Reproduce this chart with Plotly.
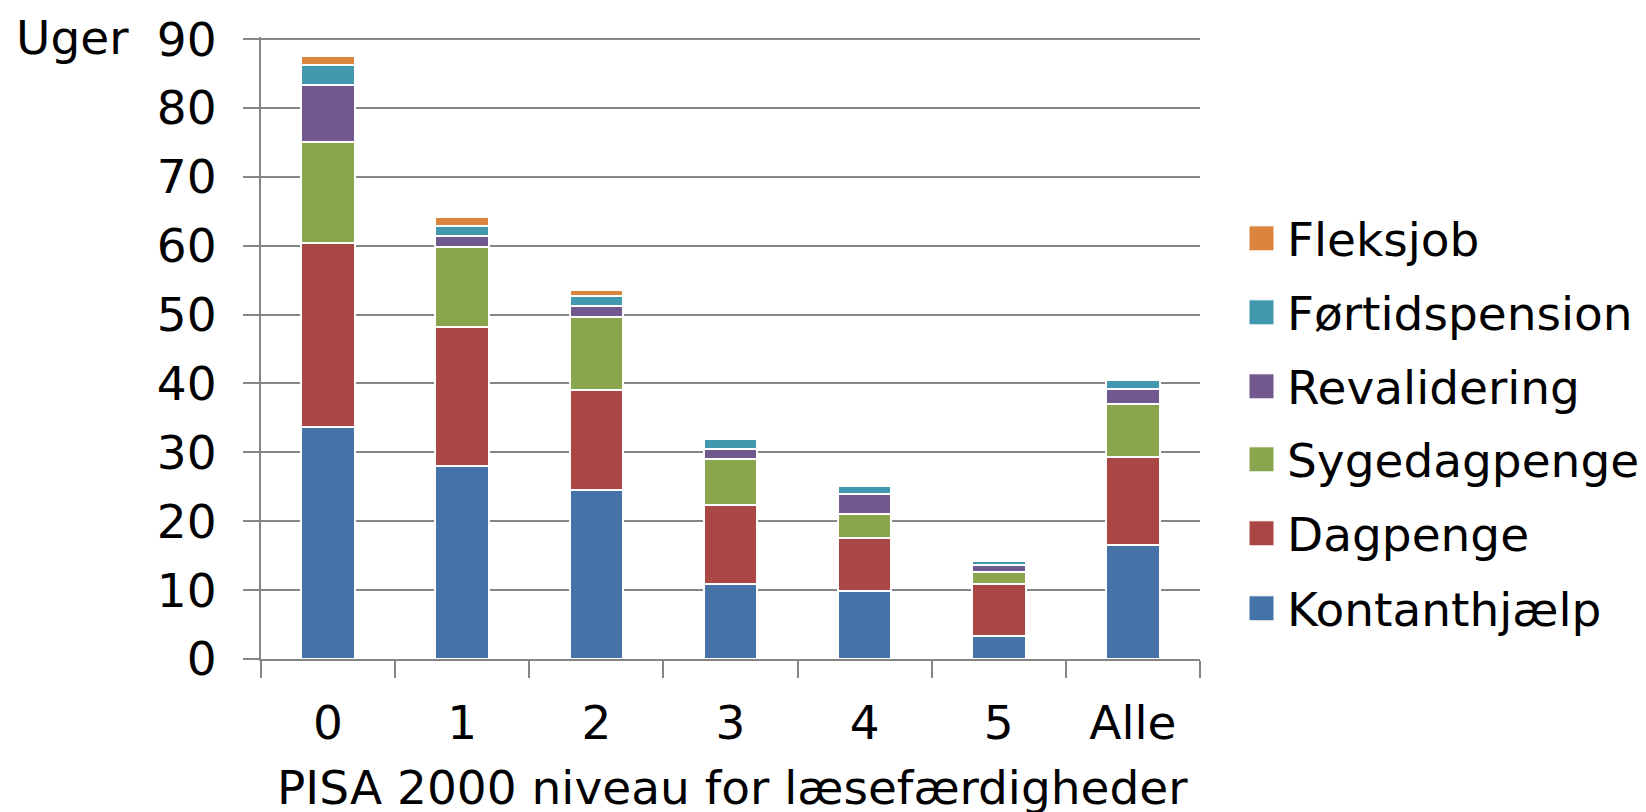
import plotly.graph_objects as go

categories = ["0", "1", "2", "3", "4", "5", "Alle"]
series_names = ["Kontanthjælp", "Dagpenge", "Sygedagpenge", "Revalidering", "Førtidspension", "Fleksjob"]
kontanthjaelp = [33.7, 28.0, 24.6, 10.9, 9.9, 3.3, 16.5]
dagpenge = [26.7, 20.2, 14.5, 11.5, 7.7, 7.6, 12.8]
sygedagpenge = [14.6, 11.6, 10.6, 6.6, 3.4, 1.8, 7.7]
revalidering = [8.4, 1.6, 1.6, 1.5, 3.0, 0.9, 2.2]
foertidspension = [2.8, 1.4, 1.4, 1.4, 1.1, 0.6, 1.3]
fleksjob = [1.4, 1.4, 0.8, 0.0, 0.0, 0.0, 0.3]
colors = ["#4572A7", "#AA4643", "#89A54E", "#71588F", "#4198AF", "#DB843D"]
y_ticks = [0, 10, 20, 30, 40, 50, 60, 70, 80, 90]
x_title = "PISA 2000 niveau for læsefærdigheder"
y_title = "Uger"

values = [kontanthjaelp, dagpenge, sygedagpenge, revalidering, foertidspension, fleksjob]

OFF = 8  # default page body margin
W, H = 1646 - OFF, 812 - OFF
# plot area in page pixels
Lp, Rp, Tp, Bp = 261, 1200, 38.7, 658.7
YMAX = 90.3
Tp_ext = Bp - (Bp - Tp) / 90 * YMAX
L, R, T, B = Lp - OFF, Rp - OFF, Tp_ext - OFF, Bp - OFF
FONT = "DejaVu Sans"
FS = 47
GRAY = "#868686"

def px(x):  # page px -> paper
    return (x - OFF - L) / (R - L)

def py(y):
    return (B - (y - OFF)) / (B - T)

fig = go.Figure()
for name, vals, col in zip(series_names, values, colors):
    fig.add_trace(go.Bar(
        x=categories, y=vals, name=name,
        marker=dict(color=col, line=dict(color="white", width=2)),
        showlegend=False,
    ))

# manual legend (page coordinates of item centres)
legend_y = [608, 533, 459, 386, 312, 238]
for name, col, ly in zip(series_names, colors, legend_y):
    fig.add_shape(type="rect", xref="paper", yref="paper",
                  x0=px(1249), x1=px(1274), y0=py(ly + 12.5), y1=py(ly - 12.5),
                  fillcolor=col, line=dict(color="white", width=1))
    fig.add_annotation(xref="paper", yref="paper", x=px(1285), y=py(ly + 1),
                       text=name, showarrow=False, xanchor="left", yanchor="middle",
                       font=dict(family=FONT, size=FS, color="black"))

fig.add_annotation(xref="paper", yref="paper", x=px(14), y=py(37),
                   text=y_title, showarrow=False, xanchor="left", yanchor="middle",
                   font=dict(family=FONT, size=FS, color="black"))
fig.add_annotation(xref="paper", yref="paper", x=px(732), y=py(787),
                   text=x_title, showarrow=False, xanchor="center", yanchor="middle",
                   font=dict(family=FONT, size=FS, color="black"))

fig.update_layout(
    width=W, height=H,
    barmode="stack", bargap=0.6,
    paper_bgcolor="white", plot_bgcolor="white",
    margin=dict(l=L, r=W - R, t=T, b=H - B, autoexpand=False),
    font=dict(family=FONT, size=FS, color="black"),
    showlegend=False,
)
fig.update_yaxes(
    range=[0, YMAX], tickvals=y_ticks, showgrid=True, gridcolor=GRAY, gridwidth=2,
    showline=True, linecolor=GRAY, linewidth=2, ticks="outside", ticklen=16,
    tickwidth=2, tickcolor=GRAY, zeroline=False, ticklabelstandoff=17,
    tickfont=dict(family=FONT, size=FS, color="black"),
)
fig.update_xaxes(
    type="category", showgrid=False, showline=True, linecolor=GRAY, linewidth=2,
    ticks="outside", tickson="boundaries", ticklen=17, tickwidth=2, tickcolor=GRAY,
    tickfont=dict(family=FONT, size=FS, color="black"), ticklabelstandoff=22,
)

fig.write_html("out.html")
